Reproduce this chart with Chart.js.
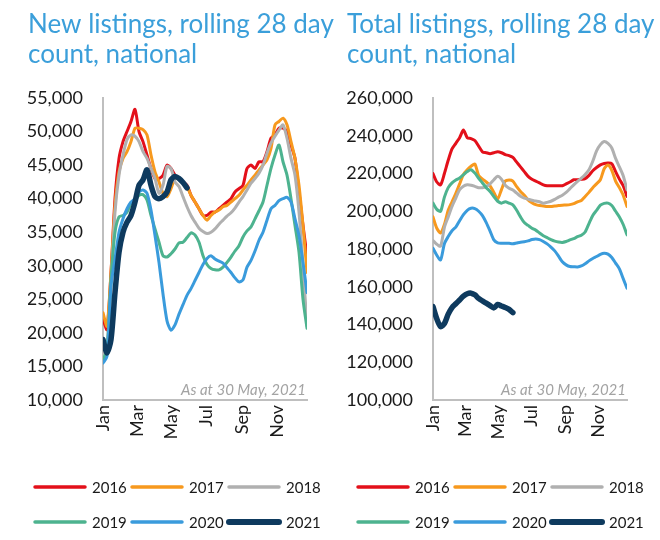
<!DOCTYPE html>
<html>
<head>
<meta charset="utf-8">
<script src="https://cdn.jsdelivr.net/npm/chart.js@4.4.0/dist/chart.umd.min.js"></script>
<style>
html,body{margin:0;padding:0;background:#ffffff;}
#wrap{position:relative;width:660px;height:540px;overflow:hidden;background:#ffffff;}
#boxA{position:absolute;left:0;top:0;width:345px;height:540px;}
#boxB{position:absolute;left:330px;top:0;width:330px;height:540px;}
</style>
</head>
<body>
<div id="wrap">
  <div id="boxA"><canvas id="chartA"></canvas></div>
  <div id="boxB"><canvas id="chartB"></canvas></div>
</div>
<script>
// ---- categories / ticks ----
const years = ['2016', '2017', '2018', '2019', '2020', '2021'];
const weekDays = [0,7,14,21,28,35,42,49,56,63,70,77,84,91,98,105,112,119,126,133,140,147,154,161,168,175,182,189,196,203,210,217,224,231,238,245,252,259,266,273,280,287,294,301,308,315,322,329,336,343,350,357];
const monthTickDays = [0, 59, 120, 181, 243, 304];
const monthLabels = ['Jan', 'Mar', 'May', 'Jul', 'Sep', 'Nov'];
const newYTicks = [10000, 15000, 20000, 25000, 30000, 35000, 40000, 45000, 50000, 55000];
const totalYTicks = [100000, 120000, 140000, 160000, 180000, 200000, 220000, 240000, 260000];

// ---- New listings, rolling 28 day count ----
const new2016 = [22000,20500,29000,40000,46000,48500,50000,51500,53300,50000,48500,46500,44500,43000,43000,43500,45000,44500,43500,43000,42500,42000,40500,39500,38500,37500,37500,38000,38000,38500,39000,39500,40000,41000,41500,42000,44500,45000,44500,45500,45500,47000,49000,49500,50500,50500,50000,48000,46000,41000,36000,31500];
const new2017 = [23000,21000,29000,39000,44000,46000,47000,48500,50500,50500,50300,49500,46500,44000,42500,40800,40300,41500,43000,43000,42500,41800,40500,39500,38500,37500,36800,37500,38000,38300,38800,39000,39500,40000,40500,41300,42000,42800,43500,44300,45000,45800,47500,51000,51500,52000,51000,48500,46000,42000,36000,29000];
const new2018 = [17000,18000,27000,38000,43500,46500,48800,49500,49300,48500,47000,46000,44500,43000,40800,42000,44800,44500,42500,41800,40300,38800,37500,36500,35600,35100,34800,35000,35500,36200,36800,37400,37900,38600,39500,40300,41300,42300,43000,43800,45000,46800,48300,49300,50200,51000,49000,46000,43500,38000,30000,21000];
const new2019 = [16000,17500,28000,35000,37300,37500,38000,39300,39700,40500,40600,39800,37500,35500,33500,31500,31300,31800,32500,33400,33500,34200,34900,34600,33500,31500,30200,29600,29400,29400,29800,30500,31300,32200,33000,34300,35200,35800,37000,38200,39500,42000,44500,46500,48000,45500,43500,40000,36000,32000,25000,20700];
const new2020 = [15500,16500,27000,31000,35000,37000,38500,39500,40000,41000,41300,40800,38300,34500,30500,25800,21800,20400,21200,22800,24200,25600,26600,27800,29000,30200,31100,31500,31000,30700,30400,29700,29000,28200,27600,27900,29800,30800,32200,33800,35000,36800,38500,39000,39700,40000,40200,39500,37000,34500,30500,26000];
const new2021 = [19000,17000,19000,26000,32000,35000,36500,37500,39500,42000,42800,44300,42000,40300,40000,40300,41000,42800,43300,43000,42400,41600];

// ---- Total listings, rolling 28 day count ----
const total2016 = [220000,215500,214000,220000,227000,233000,236000,239000,243000,239000,238500,237500,234500,231500,231000,230500,231000,231500,231000,230000,229500,228500,226000,223500,221000,218500,217000,216000,215000,214000,213500,213500,213500,213500,213500,214500,215500,216700,216700,216900,217300,219000,221500,223200,224600,225300,225500,225200,221000,217000,213500,207800];
const total2017 = [197000,191000,188500,193000,200500,205000,209500,214500,219500,222000,223800,225000,219000,217000,215500,213500,210000,206500,211500,216000,216500,216000,213000,210500,208500,206000,204500,203500,203000,202800,202500,202500,202800,203000,203200,203300,203500,204000,205000,205700,207800,210000,212500,214500,216700,222500,224500,221700,216000,212500,208500,202500];
const total2018 = [184500,182500,181500,191500,197000,202500,207000,211400,213300,214000,213800,213200,212500,212500,213000,214500,216700,218500,217000,213800,212200,211200,209600,208000,207000,206400,205800,205400,205000,204300,204700,205300,206300,207500,208500,210000,212000,214000,215800,217500,219500,222000,226500,232000,235300,237000,236000,233500,228000,223500,218800,211400];
const total2019 = [204300,201000,200000,207500,212500,215000,216500,217600,219300,221000,222000,220200,217500,215000,212500,210500,207800,205300,204300,205000,204300,203400,200500,197000,194000,192500,191000,190000,188500,187000,186000,185000,184200,183700,183500,184000,184800,185500,186500,187300,189000,193500,197800,200500,203200,204200,204300,203000,200000,197000,193000,187500];
const total2020 = [180400,176700,174200,182800,186600,189700,191600,195000,198200,200500,201600,201400,200000,197700,194000,189500,184800,183300,183100,183100,183000,182800,183200,183600,183800,184300,185000,185300,185000,184000,182700,181000,179000,176200,173200,171600,170700,170600,170500,171000,172200,173700,175000,176000,177200,177800,177300,175500,172500,169500,164300,159200];
const total2021 = [149500,143000,138900,140500,145500,149000,151000,153000,155000,156300,156600,155700,153800,152500,151300,150000,148800,150600,149800,149000,148000,146300];

// ---- styles ----
const seriesColors = ['#E3101A', '#F7991E', '#B0B0B0', '#4DB38F', '#3A9BDC', '#0E3A5E'];
const seriesWidths = [3, 3, 3, 3, 3, 5.5];
const FONT = 'Lato';

const decorPlugin = {
  id: 'decor',
  afterDraw(chart, args, o) {
    const ctx = chart.ctx;
    const area = chart.chartArea;
    ctx.save();
    // title
    ctx.fillStyle = o.titleColor;
    ctx.font = o.titleSize + 'px ' + FONT;
    ctx.textAlign = 'left';
    ctx.textBaseline = 'alphabetic';
    o.title.forEach((t, i) => ctx.fillText(t, o.titleX, o.titleY + i * o.titleLine));
    // note
    ctx.font = 'italic 15px ' + FONT;
    ctx.fillStyle = '#A3A3A3';
    ctx.textAlign = 'right';
    ctx.fillText(o.note, area.right - 1, area.bottom - 5);
    // legend (3 per row)
    chart.data.datasets.forEach((ds, i) => {
      const col = i % 3, row = Math.floor(i / 3);
      const x = o.legendX + col * 97;
      const y = o.legendY + row * 35;
      ctx.strokeStyle = ds.borderColor;
      ctx.lineWidth = ds.borderWidth + 0.5;
      ctx.lineCap = 'round';
      ctx.beginPath();
      ctx.moveTo(x + 2, y);
      ctx.lineTo(x + 52, y);
      ctx.stroke();
      ctx.fillStyle = '#1A1A1A';
      ctx.font = '15px ' + FONT;
      ctx.textAlign = 'left';
      ctx.textBaseline = 'middle';
      ctx.fillText(ds.label, x + 59, y + 1);
    });
    ctx.restore();
  }
};

function makeDatasets(seriesList) {
  return seriesList.map((arr, i) => ({
    label: years[i],
    data: arr,
    borderColor: seriesColors[i],
    backgroundColor: seriesColors[i],
    borderWidth: seriesWidths[i],
    pointRadius: 0,
    tension: 0.25,
    fill: false,
    borderCapStyle: 'round',
    borderJoinStyle: 'round',
    order: seriesList.length - i
  }));
}

function makeChart(canvasId, seriesList, yTicks, yWidth, pad, decor) {
  return new Chart(document.getElementById(canvasId), {
    type: 'line',
    data: { labels: weekDays, datasets: makeDatasets(seriesList) },
    options: {
      responsive: true,
      maintainAspectRatio: false,
      animation: false,
      layout: { padding: pad },
      plugins: {
        legend: { display: false },
        title: { display: false },
        tooltip: { enabled: false },
        decor: decor
      },
      scales: {
        x: {
          type: 'linear',
          min: 0,
          max: 357,
          afterBuildTicks: s => { s.ticks = monthTickDays.map(v => ({ value: v })); },
          afterFit: s => { s.height = 40; },
          grid: { display: false, drawTicks: false },
          border: { color: '#BFBFBF', width: 2 },
          ticks: {
            autoSkip: false,
            maxRotation: 90,
            minRotation: 90,
            padding: 5,
            color: '#1A1A1A',
            font: { family: FONT, size: 18 },
            callback: v => monthLabels[monthTickDays.indexOf(v)]
          }
        },
        y: {
          min: yTicks[0],
          max: yTicks[yTicks.length - 1],
          afterBuildTicks: s => { s.ticks = yTicks.map(v => ({ value: v })); },
          afterFit: s => { s.width = yWidth; },
          grid: { display: false, drawTicks: false },
          border: { color: '#BFBFBF', width: 2 },
          ticks: {
            padding: 20,
            color: '#1A1A1A',
            font: { family: FONT, size: 18 },
            callback: v => v.toLocaleString('en-US')
          }
        }
      }
    },
    plugins: [decorPlugin]
  });
}

makeChart('chartA',
  [new2016, new2017, new2018, new2019, new2020, new2021],
  newYTicks, 75,
  { top: 98, left: 28, right: 38, bottom: 100 },
  { title: ['New listings, rolling 28 day', 'count, national'], titleX: 28, titleY: 33, titleLine: 30, titleSize: 26,
    titleColor: '#3B9FDA', note: 'As at 30 May, 2021', legendX: 33, legendY: 487 });

makeChart('chartB',
  [total2016, total2017, total2018, total2019, total2020, total2021],
  totalYTicks, 86,
  { top: 98, left: 17, right: 33, bottom: 100 },
  { title: ['Total listings, rolling 28 day', 'count, national'], titleX: 17, titleY: 33, titleLine: 30, titleSize: 26,
    titleColor: '#3B9FDA', note: 'As at 30 May, 2021', legendX: 26, legendY: 487 });
</script>
</body>
</html>
